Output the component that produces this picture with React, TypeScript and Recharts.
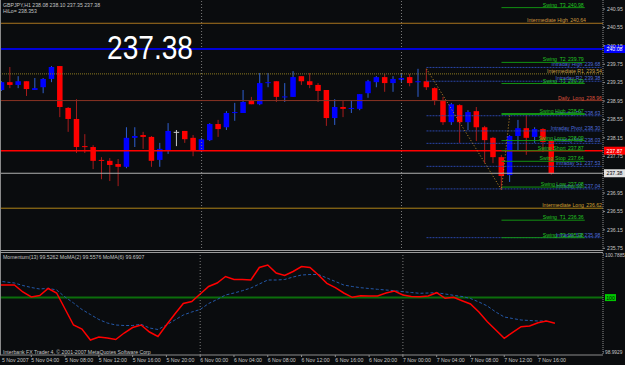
import React from 'react';
import { ComposedChart, Bar, Line, XAxis, YAxis, ReferenceLine } from 'recharts';

// ---------- data ----------
const slotCount = 73; // 67 hourly bars + chart shift
const opens = [239.19,239.36,239.30,239.38,239.19,239.25,239.43,239.71,238.80,238.56,
  237.97,237.95,237.67,237.65,237.58,237.52,238.15,238.21,238.17,237.67,
  237.88,238.28,238.30,238.15,237.86,238.10,238.45,238.38,238.69,238.69,
  238.95,238.88,239.34,239.38,239.03,239.04,239.49,239.38,239.30,239.19,
  238.58,238.82,238.78,238.78,239.12,239.36,239.47,239.34,239.41,239.47,
  239.37,239.38,239.23,238.95,238.49,238.86,238.49,238.73,238.38,238.15,
  237.73,237.34,238.19,238.36,238.17,238.34,238.08];
const highs = [239.38,239.69,239.49,239.38,239.45,239.45,239.71,239.71,238.82,238.99,
  238.23,237.99,237.73,237.71,237.69,238.38,238.38,238.28,238.19,238.04,
  238.47,238.32,238.30,238.21,238.15,238.47,238.54,238.73,238.91,239.19,
  239.04,239.56,239.56,239.38,239.34,239.60,239.49,239.56,239.34,239.19,
  238.99,238.95,238.97,239.10,239.41,239.49,239.54,239.49,239.56,239.54,
  239.65,239.65,239.25,239.04,238.91,238.88,238.75,238.82,238.41,238.17,
  237.78,238.21,238.54,238.67,238.38,238.36,238.10];
const lows = [239.17,239.23,239.23,239.06,239.19,239.12,239.36,238.60,238.28,237.82,
  237.82,237.47,237.25,237.21,237.10,237.49,237.95,237.91,237.52,237.52,
  237.80,237.97,238.04,237.75,237.84,238.08,238.17,238.32,238.52,238.69,
  238.88,238.86,239.25,238.93,238.93,239.04,239.30,239.23,238.93,238.41,
  238.43,238.60,238.69,238.75,239.02,239.25,239.15,239.15,239.36,239.27,
  239.04,239.19,238.86,238.43,238.43,238.04,238.32,238.08,237.60,237.60,
  237.02,237.19,237.88,237.78,238.04,237.84,237.35];
const closes = [239.36,239.30,239.38,239.21,239.23,239.43,239.69,238.82,238.56,237.95,
  237.95,237.65,237.65,237.56,237.52,238.15,238.19,238.17,237.65,237.91,
  238.30,238.28,238.12,237.88,238.12,238.45,238.34,238.69,238.71,238.93,
  238.88,239.34,239.36,239.04,239.05,239.47,239.38,239.30,239.17,238.58,
  238.82,238.78,238.80,239.10,239.38,239.47,239.34,239.43,239.45,239.34,
  239.38,239.25,238.95,238.49,238.88,238.49,238.71,238.38,238.10,237.73,
  237.32,238.19,238.36,238.15,238.34,238.06,237.38];

const momentum = [100.2331,100.2331,100.2331,100.1036,100.0110,100.0388,100.1683,100.0850,99.7889,99.4927,
  99.4186,99.2150,99.2705,99.2520,99.2242,99.3446,99.4464,99.4927,99.3631,99.2798,
  99.4927,99.6963,99.8907,99.9277,100.0665,100.2054,100.2702,100.3905,100.3350,100.3350,
  100.3257,100.5571,100.6034,100.4553,100.4090,100.4831,100.5756,100.5571,100.4183,100.2646,
  100.1832,100.0850,100.0054,100.0351,100.0295,100.0295,100.0850,100.1221,100.0480,100.0203,
  100.0165,100.0295,100.0906,99.9869,100.0054,99.9425,99.8814,99.7333,99.5537,99.4001,
  99.2464,99.3575,99.4612,99.4741,99.5352,99.5667,99.5262];
const momentumMA = [100.3072,100.2887,100.2702,100.2239,100.1869,100.1591,100.1721,100.1406,100.0110,99.8999,
  99.7796,99.6870,99.5945,99.5297,99.4927,99.4834,99.4834,99.5056,99.4371,99.4094,
  99.4927,99.5852,99.6778,99.7333,99.7796,99.8907,99.9647,100.0480,100.0850,100.1276,
  100.1776,100.2517,100.3257,100.3257,100.3350,100.3812,100.4183,100.4275,100.4275,100.3627,
  100.2979,100.2331,100.2054,100.1832,100.1683,100.1535,100.1406,100.1276,100.1091,100.0943,
  100.0795,100.0850,100.0906,100.0665,100.0425,100.0203,99.9832,99.9184,99.8444,99.7333,
  99.6408,99.6130,99.5852,99.5760,99.5667,99.5667];

const zigzagBars = [51, 60, 61];
const zigzagPrices = [239.65, 237.02, 238.67];

const timeTickBars = [0,4,8,12,16,20,24,28,32,36,40,44,48,52,56,60,64];
const timeTickLabels = ['5 Nov 2007','5 Nov 04:00','5 Nov 08:00','5 Nov 12:00','5 Nov 16:00','5 Nov 20:00',
  '6 Nov 00:00','6 Nov 04:00','6 Nov 08:00','6 Nov 12:00','6 Nov 16:00','6 Nov 20:00',
  '7 Nov 00:00','7 Nov 04:00','7 Nov 08:00','7 Nov 12:00','7 Nov 16:00'];
const daySeparatorBars = [24, 48];

const priceTicks = [240.95,240.55,240.15,239.75,239.35,238.95,238.55,238.15,237.75,236.95,236.55,236.15,235.75];
const priceDomain = [235.69, 241.146];
const momentumTicks = [98.9929, 100.7885];
const momentumDomain = [98.9374, 100.8255];
const momentumLevel = 100;

const swingNames = ['Swing  T3','Swing  T2','Swing  T1','Swing High','Swing Long','Swing Short','Swing Stop','Swing Low','Swing  T1','Swing  T2'];
const swingPrices = [240.98,239.79,239.33,238.67,238.09,237.87,237.64,237.08,236.36,235.98];
const swingFromBar = 60, swingToBar = 70;

const intradayNames = ['Intraday High','Intraday R2','Intraday R1','Intraday Pivot','Intraday Mid','Intraday S1','Intraday S2','Intraday S3'];
const intradayPrices = [239.68,239.38,238.63,238.30,238.03,237.53,237.04,235.98];
const intradayFromBar = 51, intradayToBar = 72;

const majorNames = ['Intermediate High','Intermediate R1','Daily  Long','Intermediate Long'];
const majorPrices = [240.64, 239.54, 238.96, 236.62];
const majorLineColors = ['#a8741e','#8c7a20','#8a3424','#b08418'];
const majorTextColors = ['#d09a40','#c8a040','#d8503c','#d0a030'];
const majorDashes = ['', '1 1', '', ''];
const majorLabelInset = [16, 0, 0, 0];

const bluePrice = 240.08;
const redPrice = 237.87;
const lastPrice = 237.38;

const headerText = 'GBPJPY,H1  238.08 238.10 237.35 237.38';
const hiloText = 'HiLo= 238.353';
const indicatorText = 'Momentum(13) 99.5262  MoMA(2) 99.5576  MoMA(6) 99.6907';
const copyrightText = 'Interbank FX Trader 4, \u00a9 2001-2007 MetaQuotes Software Corp';

const rows = Array.from({ length: slotCount }, (_, i) => {
  const zi = zigzagBars.indexOf(i);
  const has = i < opens.length;
  return {
    i,
    range: has ? [lows[i], highs[i]] : null,
    o: has ? opens[i] : null,
    h: has ? highs[i] : null,
    l: has ? lows[i] : null,
    c: has ? closes[i] : null,
    mom: i < momentum.length ? momentum[i] : null,
    ma: i < momentumMA.length ? momentumMA[i] : null,
    zz: zi >= 0 ? zigzagPrices[zi] : null,
  };
});

// ---------- styling ----------
const FONT = '"Liberation Sans", Arial, sans-serif';
const BG = '#0a0c0e';
const SMALL = 5.2;
const AXIS_GRAY = '#8c8c8c';
const TEXT_GRAY = '#c4c4c4';
const XPAD = { left: -2.5, right: -2.6 };

const Candle = (props: any) => {
  const { x, y, width, height, payload } = props;
  if (!payload || payload.o == null || !(height > 0)) return null;
  const { o, h, l, c } = payload;
  const k = height / (h - l);
  const cx = x + width / 2;
  const yO = y + (h - o) * k;
  const yC = y + (h - c) * k;
  const top = Math.min(yO, yC);
  const bh = Math.max(1, Math.abs(yC - yO));
  const doji = Math.abs(c - o) < 0.005;
  const bull = c > o;
  const body = doji ? '#c8c8c8' : bull ? '#0000ff' : '#ff0000';
  const wick = doji ? '#c8c8c8' : bull ? '#2f5fd0' : '#a81c1c';
  return (
    <g>
      <line x1={cx} x2={cx} y1={y} y2={y + height} stroke={wick} strokeWidth={1} />
      <rect x={cx - 2.75} y={top} width={5.5} height={bh} fill={body} />
    </g>
  );
};

function makeLevelLabel(name: string | null, value: string, color: string, box?: { bg: string; fg: string }, inset = 0) {
  return (props: any) => {
    const vb = props.viewBox || {};
    const xEnd = (vb.x ?? 0) + (vb.width ?? 0);
    const y = vb.y ?? 0;
    return (
      <g style={{ fontFamily: FONT, fontSize: SMALL }}>
        {name ? (
          <text x={xEnd - 19 - inset} y={y - 1} fill={color} textAnchor="end" style={{ whiteSpace: 'pre' }}>{name}</text>
        ) : null}
        {name ? (
          <text x={xEnd - 1 - inset} y={y - 1} fill={color} textAnchor="end">{value}</text>
        ) : null}
        {box ? (
          <g>
            <rect x={xEnd + 1} y={y - 4} width={21} height={8} fill={box.bg} />
            <text x={xEnd + 11.5} y={y + 2} fill={box.fg} textAnchor="middle">{value}</text>
          </g>
        ) : null}
      </g>
    );
  };
}

const TimeTick = (props: any) => {
  const { x, y, payload } = props;
  const idx = timeTickBars.indexOf(payload.value);
  return (
    <text x={Math.max(x, 2)} y={y} dy="0.71em" textAnchor="start" fill={TEXT_GRAY} fontSize={SMALL} fontFamily={FONT}>
      {idx >= 0 ? timeTickLabels[idx] : ''}
    </text>
  );
};

export default function App() {
  return (
    <div style={{ position: 'fixed', left: 0, top: 0, width: 625, height: 365, background: BG, overflow: 'hidden' }}>
      <div style={{ position: 'absolute', left: 0, top: 0 }}>
        <ComposedChart width={625} height={251} data={rows} margin={{ top: 0, right: 0, bottom: 0, left: 0 }}>
          <XAxis dataKey="i" type="category" hide padding={XPAD} />
          <YAxis
            orientation="right"
            width={22}
            type="number"
            domain={priceDomain}
            allowDataOverflow
            ticks={priceTicks}
            interval={0}
            tickSize={2}
            tickMargin={2}
            tickFormatter={(v: number) => v.toFixed(2)}
            tick={{ fill: TEXT_GRAY, fontSize: SMALL, fontFamily: FONT, textAnchor: 'start' }}
            axisLine={{ stroke: AXIS_GRAY, strokeDasharray: '1 1' }}
            tickLine={{ stroke: AXIS_GRAY }}
          />
          {daySeparatorBars.map((b) => (
            <ReferenceLine key={'d' + b} x={b} stroke="#7a7a7a" strokeDasharray="1 2" />
          ))}
          {majorPrices.map((p, k) => (
            <ReferenceLine
              key={'m' + k}
              y={p}
              stroke={majorLineColors[k]}
              strokeDasharray={majorDashes[k] || undefined}
              label={makeLevelLabel(majorNames[k], p.toFixed(2), majorTextColors[k], undefined, majorLabelInset[k])}
            />
          ))}
          <ReferenceLine y={bluePrice} stroke="#0000d8" strokeWidth={2}
            label={makeLevelLabel(null, bluePrice.toFixed(2), '#fff', { bg: '#0000ff', fg: '#ffffff' })} />
          <ReferenceLine y={redPrice} stroke="#ff0000" strokeWidth={1.5}
            label={makeLevelLabel(null, redPrice.toFixed(2), '#fff', { bg: '#ff0000', fg: '#ffffff' })} />
          <ReferenceLine y={lastPrice} stroke="#b0b0b0"
            label={makeLevelLabel(null, lastPrice.toFixed(2), '#000', { bg: '#e0e0e0', fg: '#000000' })} />
          {intradayPrices.map((p, k) => (
            <ReferenceLine
              key={'i' + k}
              segment={[{ x: intradayFromBar, y: p }, { x: intradayToBar, y: p }]}
              stroke="#2a46a8"
              strokeDasharray="2 1"
              label={makeLevelLabel(intradayNames[k], p.toFixed(2), '#4a6ad8')}
            />
          ))}
          {swingPrices.map((p, k) => (
            <ReferenceLine
              key={'s' + k}
              segment={[{ x: swingFromBar, y: p }, { x: swingToBar, y: p }]}
              stroke="#129212"
              strokeWidth={swingNames[k] === 'Swing High' ? 2 : 1}
              label={makeLevelLabel(swingNames[k], p.toFixed(2), '#22c422')}
            />
          ))}
          <Bar dataKey="range" barSize={6} shape={<Candle />} isAnimationActive={false} />
          <Line dataKey="zz" stroke="#c8902a" strokeDasharray="1 2" strokeWidth={1} dot={false}
            connectNulls isAnimationActive={false} />
        </ComposedChart>
      </div>

      <div style={{ position: 'absolute', left: 0, top: 251 }}>
        <ComposedChart width={625} height={114} data={rows} margin={{ top: 2, right: 0, bottom: 0, left: 0 }}>
          <XAxis
            dataKey="i"
            type="category"
            padding={XPAD}
            height={10}
            ticks={timeTickBars}
            interval={0}
            tickSize={2}
            tickMargin={1}
            tick={<TimeTick />}
            axisLine={{ stroke: AXIS_GRAY }}
            tickLine={{ stroke: AXIS_GRAY }}
          />
          <YAxis
            orientation="right"
            width={22}
            type="number"
            domain={momentumDomain}
            allowDataOverflow
            ticks={momentumTicks}
            interval={0}
            tickSize={1}
            tickMargin={1}
            tickFormatter={(v: number) => v.toFixed(4)}
            tick={{ fill: TEXT_GRAY, fontSize: 4.8, fontFamily: FONT, textAnchor: 'start' }}
            axisLine={{ stroke: AXIS_GRAY, strokeDasharray: '1 1' }}
            tickLine={{ stroke: AXIS_GRAY }}
          />
          {daySeparatorBars.map((b) => (
            <ReferenceLine key={'dd' + b} x={b} stroke="#7a7a7a" strokeDasharray="1 2" />
          ))}
          <ReferenceLine y={momentumLevel} stroke="#0b6e0b" strokeWidth={2}
            label={(props: any) => {
              const vb = props.viewBox || {};
              const xEnd = (vb.x ?? 0) + (vb.width ?? 0);
              const y = vb.y ?? 0;
              return (
                <g>
                  <rect x={xEnd + 2} y={y - 3.5} width={11} height={7} fill="#00c800" />
                  <text x={xEnd + 7.5} y={y + 2} textAnchor="middle" fill="#002000" fontSize={SMALL} fontFamily={FONT}>
                    {String(momentumLevel)}
                  </text>
                </g>
              );
            }}
          />
          <Line dataKey="ma" stroke="#2458a8" strokeDasharray="3 2" strokeWidth={1} dot={false} isAnimationActive={false} />
          <Line dataKey="mom" stroke="#ff0000" strokeWidth={1.5} dot={false} isAnimationActive={false} />
        </ComposedChart>
      </div>

      <svg width={625} height={365} style={{ position: 'absolute', left: 0, top: 0, pointerEvents: 'none' }}>
        <line x1={0.5} y1={0} x2={0.5} y2={355} stroke="#8a8a8a" />
        <line x1={0} y1={250.5} x2={603} y2={250.5} stroke="#9a9a9a" />
        <line x1={0} y1={252.5} x2={603} y2={252.5} stroke="#9a9a9a" />
        <g fontFamily={FONT} fontSize={SMALL} fill={TEXT_GRAY}>
          <text x={3} y={7}>{headerText}</text>
          <text x={3} y={13}>{hiloText}</text>
          <text x={3} y={259}>{indicatorText}</text>
          <text x={3} y={354}>{copyrightText}</text>
        </g>
        <text x={107} y={59} fontFamily={FONT} fontSize={34} fill="#ffffff" textLength={86} lengthAdjust="spacingAndGlyphs">
          {lastPrice.toFixed(2)}
        </text>
      </svg>
    </div>
  );
}
